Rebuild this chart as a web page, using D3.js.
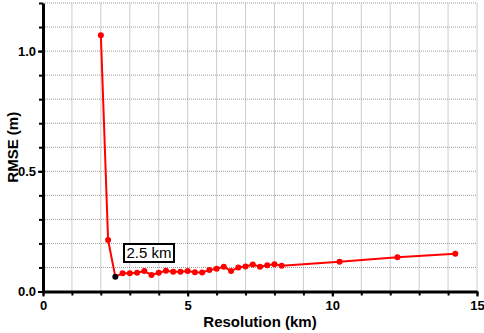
<!DOCTYPE html>
<html>
<head>
<meta charset="utf-8">
<script src="https://cdn.jsdelivr.net/npm/d3@7"></script>
<style>
  body { margin: 0; background: #fff; }
  text { font-family: "Liberation Sans", Arial, sans-serif; }
</style>
</head>
<body>
<div id="chart"></div>
<script>
// resolution (km) and RMSE (m)
const resolution = [2.0, 2.25, 2.5, 2.75, 3.0, 3.25, 3.5, 3.75, 4.0, 4.25, 4.5, 4.75, 5.0, 5.25,
  5.5, 5.75, 6.0, 6.25, 6.5, 6.75, 7.0, 7.25, 7.5, 7.75, 8.0, 8.25, 10.25, 12.25, 14.25];
const rmse = [1.066, 0.214, 0.061, 0.076, 0.076, 0.078, 0.085, 0.069, 0.078, 0.086, 0.082, 0.082,
  0.085, 0.080, 0.079, 0.089, 0.095, 0.103, 0.085, 0.100, 0.104, 0.112, 0.103, 0.109, 0.113,
  0.107, 0.124, 0.142, 0.157];
const bestRes = 2.5;
const xTicks = [0, 5, 10, 15];
const yTicks = [0, 0.5, 1.0];
const annotation = "2.5 km";

const width = 484, height = 333;
const margin = {top: 3, right: 7, bottom: 42, left: 43};

const svg = d3.select('#chart').append('svg')
    .attr('width', width)
    .attr('height', height);

const x = d3.scaleLinear().domain([0, 15]).range([margin.left, width - margin.right]);
const y = d3.scaleLinear().domain([0, 1.2]).range([height - margin.bottom + 0.5, margin.top]);

const data = resolution.map((r, i) => ({r: r, v: rmse[i]}));

// grid
svg.append('g')
    .selectAll('line')
    .data(d3.range(1, 16))
    .enter().append('line')
    .attr('x1', d => x(d)).attr('x2', d => x(d))
    .attr('y1', y(0)).attr('y2', y(1.2))
    .style('stroke', '#999')
    .style('stroke-width', 1)
    .style('stroke-dasharray', '1,1');

svg.append('g')
    .selectAll('line')
    .data(d3.range(1, 13).map(d => d / 10))
    .enter().append('line')
    .attr('x1', x(0)).attr('x2', x(15))
    .attr('y1', d => y(d)).attr('y2', d => y(d))
    .style('stroke', '#999')
    .style('stroke-width', 1)
    .style('stroke-dasharray', '1,1');

// minor ticks
svg.append('g')
    .attr('transform', 'translate(0,' + y(0) + ')')
    .call(d3.axisBottom(x).tickValues(d3.range(0, 16)).tickSize(4).tickFormat(''))
    .call(g => g.select('.domain').remove())
    .selectAll('line').style('stroke-width', 2);

svg.append('g')
    .attr('transform', 'translate(' + x(0) + ',0)')
    .call(d3.axisLeft(y).tickValues(d3.range(0, 13).map(d => d / 10)).tickSize(4).tickFormat(''))
    .call(g => g.select('.domain').remove())
    .selectAll('line').style('stroke-width', 2);

// main axes
const xAxis = svg.append('g')
    .attr('transform', 'translate(0,' + y(0) + ')')
    .call(d3.axisBottom(x).tickValues(xTicks).tickSize(5).tickSizeOuter(0).tickPadding(4));

const yAxis = svg.append('g')
    .attr('transform', 'translate(' + x(0) + ',0)')
    .call(d3.axisLeft(y).tickValues(yTicks).tickSize(5).tickSizeOuter(0).tickPadding(2)
      .tickFormat(d3.format('.1f')));

[xAxis, yAxis].forEach(a => {
  a.select('.domain').style('stroke', '#000').style('stroke-width', 3);
  a.selectAll('line').style('stroke-width', 2);
  a.selectAll('text')
    .style('font-size', '13px')
    .style('font-weight', 'bold')
    .style('fill', '#000');
});

// axis titles
svg.append('text')
    .attr('x', (x(0) + x(15)) / 2)
    .attr('y', 327)
    .attr('text-anchor', 'middle')
    .style('font-size', '15px')
    .style('font-weight', 'bold')
    .text('Resolution (km)');

svg.append('text')
    .attr('transform', 'translate(18,' + y(0.6) + ') rotate(-90)')
    .attr('text-anchor', 'middle')
    .style('font-size', '15px')
    .style('font-weight', 'bold')
    .text('RMSE (m)');

// line + points
svg.append('path')
    .datum(data)
    .attr('d', d3.line().x(d => x(d.r)).y(d => y(d.v)))
    .style('fill', 'none')
    .style('stroke', '#ff0000')
    .style('stroke-width', 2);

svg.selectAll('.pt')
    .data(data)
    .enter().append('circle')
    .attr('class', 'pt')
    .attr('cx', d => x(d.r))
    .attr('cy', d => y(d.v))
    .attr('r', 3)
    .style('fill', d => d.r === bestRes ? '#000' : '#ff0000');

// annotation box
const label = svg.append('g').attr('transform', 'translate(124,244)');
label.append('rect')
    .attr('width', 50).attr('height', 18)
    .style('fill', '#fff')
    .style('stroke', '#000')
    .style('stroke-width', 2);
label.append('text')
    .attr('x', 25).attr('y', 14)
    .attr('text-anchor', 'middle')
    .style('font-size', '15px')
    .text(annotation);
</script>
</body>
</html>
